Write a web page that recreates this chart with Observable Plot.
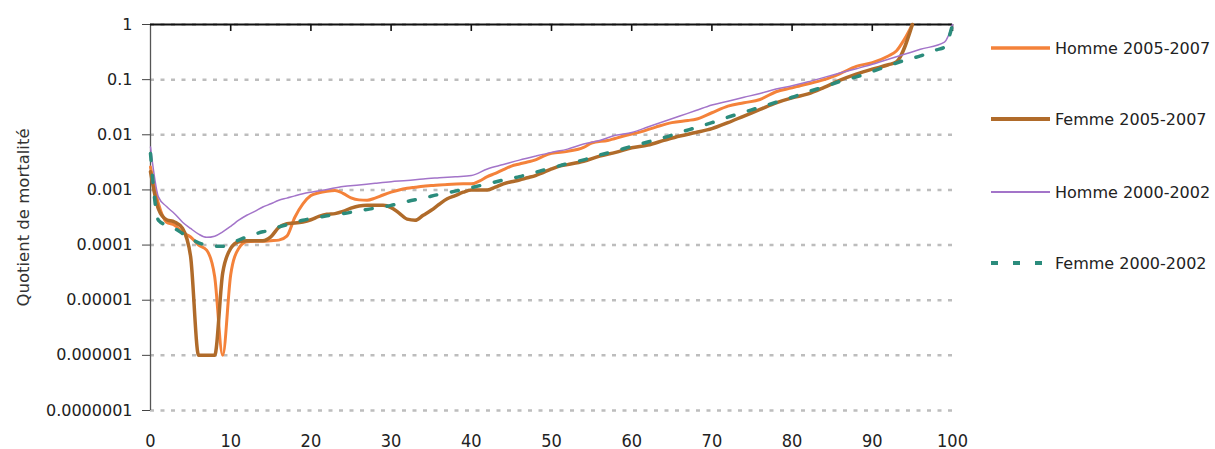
<!DOCTYPE html>
<html lang="fr">
<head>
<meta charset="utf-8">
<script src="https://cdn.jsdelivr.net/npm/d3@7"></script>
<script src="https://cdn.jsdelivr.net/npm/@observablehq/plot@0.6"></script>
<style>
  html, body { margin: 0; padding: 0; background: #fff; }
  #chart { position: relative; width: 1215px; height: 449px; }
  #legend { position: absolute; left: 0; top: 0; pointer-events: none; }
</style>
</head>
<body>
<div id="chart"></div>
<script>
// Quotients de mortalité par âge (âge en années révolues)
const ageH05 = [0,1,2,3,4,5,6,7,8,9,10,11,12,13,14,15,16,17,18,19,20,21,22,23,24,25,26,27,28,29,30,31,32,33,34,35,37,39,40,41,42,43,44,45,46,47,48,49,50,52,54,55,57,59,61,63,65,67,68,70,72,74,76,78,80,81,84,86,88,90,92,93,94,95];
const qH05 = [0.0026,0.00056,0.00026,0.00023,0.00017,0.00014,0.0001,0.000081,0.000027,0.000001,0.000029,0.000087,0.000115,0.000117,0.000117,0.00012,0.000123,0.000145,0.00032,0.00056,0.00079,0.00089,0.00095,0.00098,0.00087,0.00072,0.00066,0.00065,0.00071,0.00081,0.00091,0.001,0.00107,0.00112,0.00117,0.0012,0.00126,0.00129,0.00129,0.00145,0.00174,0.002,0.00234,0.0027,0.00295,0.0032,0.0035,0.0041,0.0046,0.005,0.0059,0.0071,0.0079,0.0095,0.0112,0.0138,0.0166,0.0182,0.0191,0.0251,0.0331,0.038,0.0437,0.0603,0.0708,0.0776,0.1,0.129,0.174,0.204,0.269,0.331,0.537,1];

const ageF05 = [0,1,2,3,4,5,6,7,8,9,10,11,12,13,14,15,16,17,18,19,20,21,22,23,24,25,26,27,28,29,30,31,32,33,34,35,36,37,38,39,40,42,43,44,45,46,47,48,49,50,51,52,54,56,58,60,62,64,66,68,70,72,74,76,78,80,82,84,86,88,90,92,93,95];
const qF05 = [0.00214,0.000447,0.000288,0.000263,0.0002,0.000062,0.000001,0.000001,0.000001,0.000031,0.000087,0.000115,0.00012,0.00012,0.00012,0.000141,0.000209,0.000245,0.000251,0.000263,0.000288,0.000331,0.000363,0.000372,0.000407,0.000468,0.000513,0.000525,0.000525,0.000525,0.000479,0.00038,0.000295,0.000282,0.000347,0.000427,0.00055,0.00069,0.00079,0.00091,0.001,0.001,0.00112,0.00129,0.00141,0.00151,0.00166,0.00182,0.00209,0.0024,0.0027,0.00288,0.00331,0.0041,0.0048,0.0058,0.0065,0.0079,0.0095,0.011,0.0129,0.0166,0.0219,0.0288,0.038,0.0468,0.055,0.0724,0.098,0.126,0.155,0.186,0.209,1];

const ageH00 = [0,1,2,3,4,5,6,7,8,9,10,11,12,13,14,15,16,17,18,19,20,22,24,26,28,30,32,34,36,38,40,42,44,46,48,50,52,54,56,58,60,62,64,66,68,70,72,74,76,78,80,82,84,86,88,90,92,94,96,99,100];
const qH00 = [0.006,0.00074,0.0005,0.00037,0.00026,0.0002,0.000158,0.000138,0.000145,0.000174,0.000219,0.000282,0.000347,0.000407,0.00049,0.00056,0.00065,0.00071,0.00078,0.00085,0.00091,0.00102,0.00115,0.00123,0.00132,0.00141,0.00148,0.00158,0.00166,0.00174,0.00182,0.0024,0.00288,0.00347,0.0041,0.0048,0.0055,0.0068,0.0079,0.0098,0.011,0.0138,0.0174,0.0219,0.0275,0.0347,0.0407,0.0479,0.0562,0.0676,0.0776,0.0912,0.11,0.132,0.158,0.19,0.234,0.288,0.355,0.479,1];

const ageF00 = [0,1,2,3,4,5,6,7,8,9,10,11,12,13,14,15,16,17,18,19,20,22,24,26,28,30,32,34,36,38,40,42,44,46,48,50,52,54,56,58,60,62,64,66,68,70,72,74,76,78,80,82,84,86,88,90,92,94,96,98,99,100];
const qF00 = [0.0046,0.00028,0.00023,0.0002,0.000162,0.000132,0.00011,0.0001,0.000095,0.000095,0.000107,0.000123,0.000141,0.000158,0.000174,0.000186,0.000214,0.000234,0.000257,0.000282,0.000302,0.000339,0.000372,0.000417,0.000468,0.000525,0.000617,0.000708,0.000832,0.00095,0.0011,0.00129,0.00151,0.00174,0.00209,0.0025,0.003,0.0035,0.0043,0.0051,0.0062,0.0074,0.0089,0.011,0.0135,0.0166,0.0209,0.0257,0.0316,0.0389,0.0479,0.0603,0.0741,0.0933,0.112,0.141,0.178,0.224,0.269,0.347,0.389,1];

// Graduations des axes
const yTicks = [1, 0.1, 0.01, 0.001, 0.0001, 0.00001, 0.000001, 0.0000001];
const yTickLabels = ["1", "0.1", "0.01", "0.001", "0.0001", "0.00001", "0.000001", "0.0000001"];
const xTicks = [0, 10, 20, 30, 40, 50, 60, 70, 80, 90, 100];

// Séries et leur style de tracé
const series = [
  {name: "Homme 2005-2007", ages: ageH05, q: qH05, stroke: "#f4823a", width: 3, dash: null},
  {name: "Femme 2005-2007", ages: ageF05, q: qF05, stroke: "#b06b2a", width: 3.5, dash: null},
  {name: "Homme 2000-2002", ages: ageH00, q: qH00, stroke: "#a374c9", width: 1.5, dash: null},
  {name: "Femme 2000-2002", ages: ageF00, q: qF00, stroke: "#2b8c7c", width: 3.5, dash: "7,15"}
];

const rowsOf = s => s.ages.map((a, i) => ({age: a, q: s.q[i]}));
const labelOf = new Map(yTicks.map((v, i) => [v, yTickLabels[i]]));

const W = 1215, H = 449;
const M = {top: 24, right: 263, bottom: 39, left: 150};
const frameHeight = H - M.top - M.bottom;
const innerTick = 7;
const font = "'DejaVu Sans', sans-serif";

const chart = Plot.plot({
  width: W,
  height: H,
  marginLeft: M.left,
  marginRight: M.right,
  marginTop: M.top,
  marginBottom: M.bottom,
  style: {fontFamily: font, fontSize: "16px", color: "#222", background: "#fff", overflow: "visible"},
  x: {domain: [0, 100]},
  y: {type: "log", domain: [0.0000001, 1]},
  marks: [
    Plot.gridY(yTicks, {stroke: "#bdbdbd", strokeOpacity: 1, strokeWidth: 2.5, strokeDasharray: "4,6.5"}),
    Plot.ruleX([0], {stroke: "#555", strokeWidth: 1.3}),
    Plot.ruleY([1], {stroke: "#111", strokeWidth: 2}),
    // graduations de l'axe du haut, tournées vers l'intérieur du graphique
    Plot.tickX(xTicks.filter(d => d > 0), {
      x: d => d,
      stroke: "#111",
      strokeWidth: 1.6,
      insetBottom: frameHeight - innerTick
    }),
    Plot.axisY(yTicks, {
      anchor: "left",
      tickSize: 8,
      tickPadding: 10,
      stroke: "#444",
      tickFormat: d => labelOf.get(d),
      fontSize: 16,
      label: null
    }),
    Plot.text(["Quotient de mortalité"], {
      frameAnchor: "left",
      dx: -127,
      rotate: -90,
      fontSize: 16.5,
      fill: "#333",
      textAnchor: "middle"
    }),
    Plot.axisX(xTicks, {
      anchor: "bottom",
      tickSize: 0,
      tickPadding: 24,
      fontFamily: "'DejaVu Sans Condensed', 'DejaVu Sans', sans-serif",
      fontSize: 18,
      label: null
    }),
    ...series.map(s => Plot.line(rowsOf(s), {
      x: "age",
      y: "q",
      stroke: s.stroke,
      strokeWidth: s.width,
      strokeDasharray: s.dash,
      curve: "monotone-x"
    }))
  ]
});

const host = document.getElementById("chart");
host.appendChild(chart);

// Légende à droite du graphique
const legendY = [48, 119, 192, 263];
const legend = d3.create("svg")
  .attr("id", "legend")
  .attr("width", W)
  .attr("height", H)
  .style("font-family", font);
const items = legend.selectAll("g").data(series).join("g")
  .attr("transform", (d, i) => `translate(991,${legendY[i]})`);
items.append("line")
  .attr("x1", 0).attr("x2", 59)
  .attr("stroke", d => d.stroke)
  .attr("stroke-width", d => d.width + 0.5)
  .attr("stroke-dasharray", d => d.dash);
items.append("text")
  .attr("x", 64).attr("y", 1)
  .attr("dominant-baseline", "middle")
  .attr("font-size", 16)
  .attr("fill", "#222")
  .text(d => d.name);
host.appendChild(legend.node());
</script>
</body>
</html>
